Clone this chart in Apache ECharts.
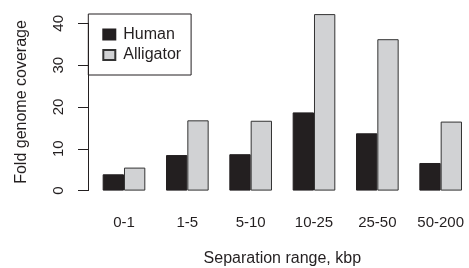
<!DOCTYPE html>
<html>
<head>
<meta charset="utf-8">
<script src="https://cdn.jsdelivr.net/npm/echarts@6/dist/echarts.min.js"></script>
<style>html,body{margin:0;padding:0;background:#fff;}#c{width:469px;height:268px;}</style>
</head>
<body>
<div id="c"></div>
<script>
var categories = ['0-1', '1-5', '5-10', '10-25', '25-50', '50-200'];
var human = [3.9, 8.5, 8.7, 18.7, 13.7, 6.6];
var alligator = [5.5, 16.8, 16.7, 42.2, 36.2, 16.5];
var yTicks = [0, 10, 20, 30, 40];

var FONT = 'Liberation Sans, Arial, Helvetica, sans-serif';
var unit = 167.3 / 40;
var chart = echarts.init(document.getElementById('c'), null, {renderer: 'canvas'});
chart.setOption({
  animation: false,
  backgroundColor: '#ffffff',
  textStyle: {fontFamily: FONT},
  grid: [
    {left: 92.33, width: 380, top: 0, height: 190.6, outerBoundsMode: 'none', containLabel: false},
    {left: 88, width: 1, top: 23.3, height: 167.3, outerBoundsMode: 'none', containLabel: false}
  ],
  xAxis: [
    {
      type: 'category', gridIndex: 0, data: categories,
      axisLine: {show: false}, axisTick: {show: false},
      axisLabel: {margin: 25, fontSize: 15, color: '#231f20', fontFamily: FONT},
      name: 'Separation range, kbp', nameLocation: 'middle', nameGap: 59.5,
      nameTextStyle: {fontSize: 16, color: '#231f20', fontFamily: FONT}
    },
    {type: 'value', gridIndex: 1, show: false}
  ],
  yAxis: [
    {type: 'value', gridIndex: 0, min: 0, max: 190.6 / unit, show: false},
    {
      type: 'value', gridIndex: 1, min: yTicks[0], max: yTicks[yTicks.length - 1], interval: 10,
      axisLine: {show: true, lineStyle: {color: '#231f20', width: 1}},
      axisTick: {show: true, length: 10, lineStyle: {color: '#231f20', width: 1}},
      splitLine: {show: false},
      axisLabel: {rotate: 90, margin: 22, fontSize: 15, color: '#231f20', fontFamily: FONT}
    }
  ],
  legend: {
    orient: 'vertical', left: 88.3, top: 14,
    padding: [12.5, 10, 12, 14], itemGap: 4.5,
    itemWidth: 12, itemHeight: 10,
    borderColor: '#231f20', borderWidth: 1,
    textStyle: {fontSize: 16, color: '#231f20', fontFamily: FONT, lineHeight: 15, padding: [0, 0, 0, 3]},
    data: [{name: 'Human', icon: 'rect'}, {name: 'Alligator', icon: 'rect'}]
  },
  graphic: [{
    type: 'text', x: 21.7, y: 102, rotation: Math.PI / 2,
    style: {text: 'Fold genome coverage', fontSize: 16, fontFamily: FONT, fill: '#231f20', align: 'center', verticalAlign: 'middle'}
  }],
  series: [
    {
      name: 'Human', type: 'bar', data: human, xAxisIndex: 0, yAxisIndex: 0,
      barWidth: 21.33, barGap: '0%',
      itemStyle: {color: '#231f20', borderColor: '#231f20', borderWidth: 1}
    },
    {
      name: 'Alligator', type: 'bar', data: alligator, xAxisIndex: 0, yAxisIndex: 0,
      barWidth: 21.33, barGap: '0%',
      itemStyle: {color: '#d1d2d4', borderColor: '#333333', borderWidth: 1}
    }
  ]
});
</script>
</body>
</html>
